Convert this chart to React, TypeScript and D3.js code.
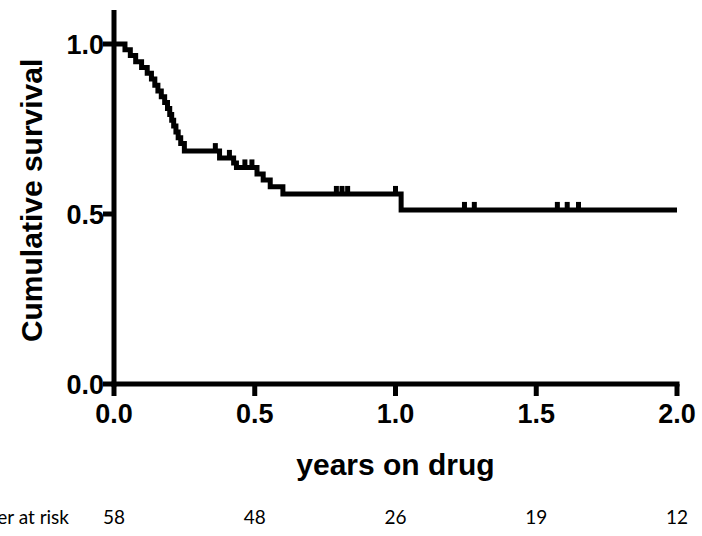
import React from 'react';
import * as d3 from 'd3';

// Kaplan-Meier steps
const eventTimes = [0.039, 0.058, 0.077, 0.098, 0.118, 0.133, 0.145, 0.156, 0.168, 0.18, 0.19, 0.198, 0.205, 0.212, 0.22, 0.228, 0.237, 0.25, 0.375, 0.425, 0.435, 0.508, 0.53, 0.555, 0.6, 1.02];
const survival = [0.983, 0.966, 0.948, 0.931, 0.914, 0.897, 0.879, 0.862, 0.845, 0.828, 0.81, 0.793, 0.776, 0.759, 0.741, 0.724, 0.707, 0.685, 0.665, 0.65, 0.637, 0.618, 0.6, 0.58, 0.559, 0.512];
const censorTimes = [0.36, 0.41, 0.465, 0.49, 0.79, 0.81, 0.83, 1.0, 1.245, 1.28, 1.575, 1.61, 1.65];

const xTicks = [0, 0.5, 1, 1.5, 2];
const yTicks = [0, 0.5, 1];
const riskTimes = [0, 0.5, 1, 1.5, 2];
const atRisk = [58, 48, 26, 19, 12];

const width = 702;
const height = 536;
const fontBold = '"Liberation Sans", Arial, sans-serif';

function survAt(t: number) {
  let s = 1;
  eventTimes.forEach((et, i) => {
    if (et <= t) s = survival[i];
  });
  return s;
}

export default function App() {
  const x = d3.scaleLinear().domain([0, 2]).range([114, 677]);
  const y = d3.scaleLinear().domain([0, 1.1]).range([384, 10]);

  const pts: [number, number][] = [[0, 1], ...eventTimes.map((t, i) => [t, survival[i]] as [number, number]), [2, survival[survival.length - 1]]];
  const line = d3.line<[number, number]>()
    .x(d => x(d[0]))
    .y(d => y(d[1]))
    .curve(d3.curveStepAfter);

  return (
    <svg width={width} height={height} style={{ position: 'fixed', left: 0, top: 0, background: '#fff' }}>
      {/* axes */}
      <line x1={x(0)} x2={x(0)} y1={y(1.1)} y2={y(0) + 2.5} stroke="#000" strokeWidth={5} />
      <line x1={x(0) - 2.5} x2={x(2) + 2.5} y1={y(0)} y2={y(0)} stroke="#000" strokeWidth={5} />
      {yTicks.map(t => (
        <g key={'y' + t}>
          <line x1={x(0) - 11} x2={x(0)} y1={y(t)} y2={y(t)} stroke="#000" strokeWidth={5} />
          <text x={x(0) - 10} y={y(t)} dy="0.36em" textAnchor="end" fontFamily={fontBold} fontWeight="bold" fontSize={27}>
            {t.toFixed(1)}
          </text>
        </g>
      ))}
      {xTicks.map(t => (
        <g key={'x' + t}>
          <line x1={x(t)} x2={x(t)} y1={y(0)} y2={y(0) + 12} stroke="#000" strokeWidth={5} />
          <text x={x(t)} y={y(0) + 39} textAnchor="middle" fontFamily={fontBold} fontWeight="bold" fontSize={27}>
            {t.toFixed(1)}
          </text>
        </g>
      ))}

      {/* survival curve */}
      <path d={line(pts) || ''} fill="none" stroke="#000" strokeWidth={5} strokeLinejoin="miter" />
      {censorTimes.map((t, i) => (
        <line key={'c' + i} x1={x(t)} x2={x(t)} y1={y(survAt(t))} y2={y(survAt(t)) - 8} stroke="#000" strokeWidth={5} />
      ))}

      {/* titles */}
      <text transform={`translate(42,${y(0.54)}) rotate(-90)`} textAnchor="middle" fontFamily={fontBold} fontWeight="bold" fontSize={30}>
        Cumulative survival
      </text>
      <text x={x(1)} y={475} textAnchor="middle" fontFamily={fontBold} fontWeight="bold" fontSize={30}>
        years on drug
      </text>

      {/* number at risk */}
      <text x={69} y={524} textAnchor="end" fontFamily="Lato, sans-serif" fontSize={19}>
        Number at risk
      </text>
      {riskTimes.map((t, i) => (
        <text key={'r' + i} x={x(t)} y={524} textAnchor="middle" fontFamily="Lato, sans-serif" fontSize={19}>
          {atRisk[i]}
        </text>
      ))}
    </svg>
  );
}
